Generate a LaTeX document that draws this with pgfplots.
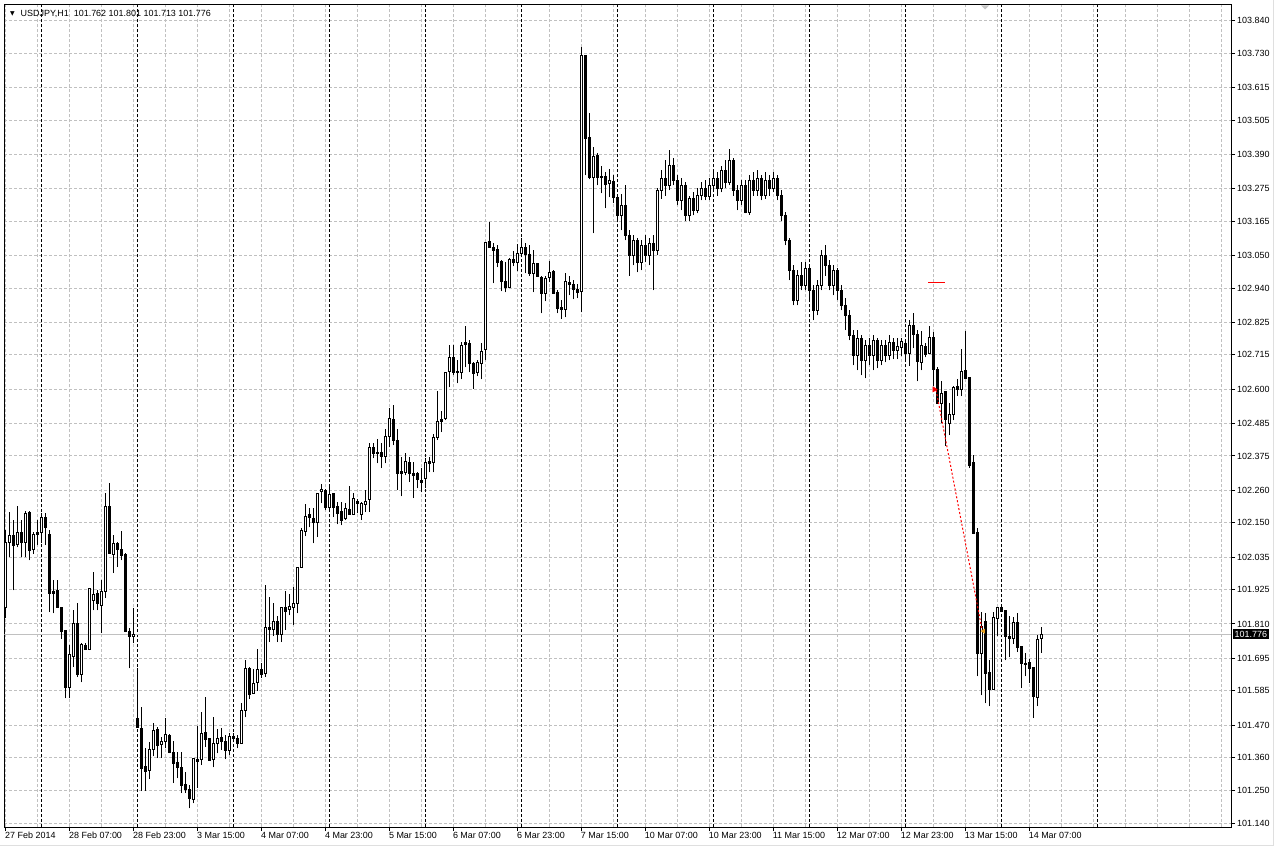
\documentclass[border=0pt]{standalone}
\usepackage{fontspec}
\setmainfont{Liberation Sans}
\newfontfamily\dejavu{DejaVu Sans}
\usepackage{pgfplots}
\usepackage{pgfplotstable}
\pgfplotsset{compat=1.18}
\definecolor{gridgray}{RGB}{192,192,192}
\definecolor{tradeorange}{RGB}{230,160,30}

\pgfplotstableread{
x o h l c
-16 101.866 102.125 101.829 102.085
-15 102.085 102.186 102.034 102.108
-14 102.108 102.159 101.923 102.075
-13 102.078 102.206 102.068 102.118
-12 102.118 102.159 102.034 102.085
-11 102.085 102.189 102.034 102.182
-10 102.186 102.189 102.024 102.058
-9 102.061 102.118 102.045 102.112
-8 102.118 102.159 102.075 102.112
-7 102.118 102.182 102.081 102.169
-6 102.169 102.182 102.075 102.135
-5 102.112 102.125 101.850 101.913
-4 101.920 101.957 101.846 101.913
-3 101.923 101.957 101.866 101.866
-2 101.866 101.866 101.759 101.786
-1 101.789 101.789 101.560 101.597
0 101.597 101.739 101.560 101.708
1 101.702 101.856 101.665 101.813
2 101.813 101.880 101.631 101.641
3 101.641 101.745 101.614 101.742
4 101.739 101.745 101.722 101.725
5 101.725 101.930 101.722 101.930
6 101.890 101.984 101.856 101.910
7 101.913 101.923 101.856 101.880
8 101.873 101.957 101.779 101.920
9 101.920 102.250 101.897 102.206
10 102.206 102.283 102.048 102.048
11 102.045 102.108 101.981 102.081
12 102.081 102.085 102.001 102.061
13 102.061 102.122 102.024 102.041
14 102.045 102.048 101.782 101.786
15 101.786 101.796 101.661 101.769
16 101.769 101.863 101.745 101.776
17 101.493 101.661 101.463 101.463
18 101.459 101.530 101.248 101.325
19 101.332 101.392 101.248 101.315
20 101.318 101.412 101.288 101.389
21 101.389 101.476 101.365 101.453
22 101.456 101.463 101.359 101.402
23 101.406 101.429 101.359 101.416
24 101.416 101.493 101.392 101.439
25 101.436 101.439 101.375 101.379
26 101.379 101.416 101.275 101.342
27 101.345 101.379 101.291 101.328
28 101.328 101.379 101.241 101.268
29 101.271 101.312 101.241 101.254
30 101.254 101.268 101.190 101.224
31 101.221 101.359 101.207 101.359
32 101.355 101.466 101.258 101.348
33 101.355 101.513 101.335 101.443
34 101.446 101.564 101.396 101.422
35 101.426 101.426 101.352 101.352
36 101.355 101.496 101.328 101.409
37 101.409 101.456 101.375 101.426
38 101.429 101.459 101.386 101.416
39 101.416 101.436 101.355 101.386
40 101.386 101.443 101.369 101.433
41 101.433 101.443 101.412 101.426
42 101.426 101.436 101.392 101.409
43 101.409 101.543 101.409 101.520
44 101.520 101.688 101.496 101.661
45 101.661 101.665 101.557 101.574
46 101.577 101.658 101.577 101.611
47 101.614 101.725 101.584 101.658
48 101.658 101.678 101.628 101.641
49 101.644 101.940 101.631 101.799
50 101.799 101.900 101.749 101.793
51 101.793 101.880 101.769 101.819
52 101.819 101.836 101.749 101.776
53 101.776 101.866 101.749 101.866
54 101.866 101.920 101.789 101.853
55 101.860 101.910 101.839 101.870
56 101.866 101.933 101.806 101.880
57 101.880 102.001 101.846 102.001
58 102.001 102.132 101.998 102.125
59 102.122 102.213 102.105 102.172
60 102.179 102.199 102.135 102.169
61 102.166 102.199 102.081 102.152
62 102.152 102.250 102.102 102.250
63 102.256 102.280 102.216 102.263
64 102.260 102.263 102.192 102.202
65 102.202 102.280 102.189 102.246
66 102.250 102.250 102.169 102.202
67 102.206 102.219 102.145 102.182
68 102.189 102.219 102.142 102.159
69 102.166 102.216 102.159 102.199
70 102.196 102.273 102.179 102.179
71 102.179 102.250 102.176 102.233
72 102.223 102.229 102.182 102.216
73 102.179 102.219 102.159 102.216
74 102.213 102.260 102.186 102.223
75 102.229 102.418 102.186 102.404
76 102.404 102.418 102.367 102.384
77 102.387 102.431 102.350 102.384
78 102.387 102.418 102.334 102.374
79 102.374 102.465 102.350 102.441
80 102.441 102.535 102.404 102.502
81 102.498 102.545 102.411 102.428
82 102.428 102.465 102.260 102.317
83 102.324 102.371 102.239 102.317
84 102.320 102.384 102.310 102.357
85 102.354 102.371 102.287 102.317
86 102.317 102.354 102.233 102.310
87 102.317 102.320 102.266 102.297
88 102.293 102.334 102.253 102.286
89 102.300 102.367 102.266 102.354
90 102.357 102.371 102.320 102.350
91 102.354 102.448 102.320 102.438
92 102.438 102.592 102.428 102.492
93 102.498 102.525 102.455 102.492
94 102.502 102.656 102.495 102.656
95 102.660 102.750 102.606 102.707
96 102.707 102.750 102.646 102.656
97 102.660 102.697 102.619 102.656
98 102.656 102.760 102.633 102.747
99 102.757 102.811 102.673 102.750
100 102.754 102.764 102.656 102.687
101 102.687 102.690 102.602 102.653
102 102.656 102.697 102.643 102.690
103 102.687 102.754 102.633 102.727
104 102.734 103.093 102.697 103.093
105 103.097 103.161 103.077 103.077
106 103.077 103.093 102.956 103.067
107 103.070 103.083 103.009 103.026
108 103.030 103.033 102.929 102.962
109 102.962 103.026 102.925 102.942
110 102.942 103.040 102.942 103.036
111 103.036 103.063 103.013 103.026
112 103.026 103.087 102.996 103.056
113 103.056 103.107 103.056 103.077
114 103.077 103.090 102.989 103.053
115 103.053 103.083 102.982 102.989
116 102.989 103.067 102.925 103.023
117 103.023 103.023 102.979 102.979
118 102.976 102.979 102.855 102.922
119 102.922 102.982 102.895 102.972
120 102.976 103.030 102.959 102.993
121 102.996 102.999 102.922 102.922
122 102.925 102.932 102.855 102.871
123 102.875 102.898 102.835 102.868
124 102.868 102.989 102.841 102.962
125 102.959 102.982 102.915 102.952
126 102.952 102.966 102.902 102.935
127 102.935 102.952 102.905 102.925
128 102.929 103.749 102.858 103.722
129 103.722 103.722 103.319 103.443
130 103.446 103.527 103.305 103.312
131 103.312 103.413 103.124 103.383
132 103.386 103.393 103.285 103.312
133 103.315 103.349 103.258 103.312
134 103.315 103.329 103.208 103.288
135 103.292 103.339 103.245 103.302
136 103.298 103.319 103.225 103.245
137 103.245 103.251 103.161 103.184
138 103.184 103.255 103.134 103.218
139 103.218 103.285 103.100 103.117
140 103.117 103.134 102.982 103.050
141 103.050 103.117 103.016 103.100
142 103.100 103.107 102.993 103.026
143 103.026 103.100 102.999 103.083
144 103.083 103.117 103.026 103.050
145 103.050 103.107 103.016 103.090
146 103.090 103.117 102.932 103.067
147 103.067 103.275 103.050 103.268
148 103.268 103.336 103.241 103.309
149 103.309 103.369 103.251 103.285
150 103.285 103.403 103.268 103.352
151 103.352 103.376 103.285 103.302
152 103.302 103.319 103.218 103.235
153 103.235 103.309 103.201 103.285
154 103.285 103.295 103.167 103.184
155 103.184 103.251 103.167 103.241
156 103.241 103.262 103.184 103.201
157 103.201 103.275 103.191 103.251
158 103.251 103.295 103.235 103.275
159 103.275 103.302 103.235 103.248
160 103.248 103.309 103.235 103.285
161 103.285 103.336 103.268 103.309
162 103.309 103.329 103.251 103.275
163 103.275 103.352 103.262 103.336
164 103.336 103.369 103.275 103.295
165 103.295 103.409 103.285 103.369
166 103.369 103.376 103.251 103.268
167 103.268 103.285 103.201 103.235
168 103.235 103.302 103.218 103.285
169 103.285 103.302 103.191 103.194
170 103.194 103.319 103.187 103.302
171 103.302 103.329 103.251 103.268
172 103.268 103.336 103.251 103.309
173 103.309 103.319 103.235 103.251
174 103.251 103.329 103.241 103.302
175 103.302 103.319 103.251 103.275
176 103.275 103.329 103.262 103.309
177 103.309 103.319 103.235 103.251
178 103.251 103.268 103.167 103.184
179 103.184 103.194 103.083 103.100
180 103.100 103.107 102.966 102.999
181 102.999 103.016 102.882 102.898
182 102.898 102.999 102.882 102.982
183 102.982 103.026 102.932 102.949
184 102.949 103.026 102.932 103.006
185 103.006 103.016 102.898 102.932
186 102.932 102.949 102.831 102.865
187 102.865 102.966 102.848 102.949
188 102.949 103.067 102.932 103.050
189 103.050 103.083 102.982 103.016
190 103.016 103.033 102.932 102.949
191 102.949 103.016 102.915 102.999
192 102.999 103.006 102.898 102.932
193 102.932 102.949 102.865 102.882
194 102.882 102.905 102.798 102.848
195 102.848 102.865 102.764 102.781
196 102.781 102.798 102.680 102.714
197 102.714 102.798 102.663 102.771
198 102.771 102.781 102.646 102.697
199 102.697 102.764 102.636 102.747
200 102.747 102.771 102.680 102.714
201 102.714 102.781 102.663 102.764
202 102.764 102.771 102.670 102.697
203 102.697 102.764 102.680 102.747
204 102.747 102.764 102.690 102.714
205 102.714 102.781 102.697 102.757
206 102.757 102.771 102.700 102.730
207 102.730 102.771 102.700 102.744
208 102.740 102.771 102.713 102.760
209 102.754 102.764 102.700 102.720
210 102.720 102.831 102.677 102.815
211 102.815 102.855 102.737 102.784
212 102.784 102.798 102.626 102.693
213 102.690 102.794 102.663 102.747
214 102.744 102.754 102.707 102.717
215 102.720 102.811 102.717 102.774
216 102.774 102.791 102.612 102.666
217 102.666 102.673 102.552 102.552
218 102.552 102.626 102.485 102.586
219 102.592 102.592 102.408 102.498
220 102.485 102.552 102.445 102.515
221 102.515 102.609 102.495 102.606
222 102.609 102.633 102.576 102.599
223 102.599 102.734 102.576 102.660
224 102.663 102.794 102.636 102.636
225 102.639 102.639 102.334 102.344
226 102.354 102.377 102.112 102.115
227 102.118 102.132 101.634 101.712
228 101.712 101.850 101.570 101.802
229 101.819 101.846 101.543 101.644
230 101.648 101.688 101.533 101.590
231 101.590 101.850 101.590 101.833
232 101.829 101.866 101.769 101.866
233 101.866 101.870 101.853 101.853
234 101.856 101.856 101.688 101.769
235 101.769 101.836 101.698 101.762
236 101.762 101.833 101.742 101.816
237 101.816 101.846 101.715 101.732
238 101.735 101.735 101.594 101.678
239 101.678 101.712 101.634 101.675
240 101.681 101.691 101.611 101.661
241 101.665 101.665 101.493 101.567
242 101.564 101.772 101.533 101.759
243 101.762 101.801 101.713 101.776
}\candles

\begin{document}
\begin{tikzpicture}
\begin{axis}[
  scale only axis, width=1227bp, height=823bp,
  xmin=-16.25, xmax=290.5, ymin=101.1266, ymax=103.8936,
  axis line style={black, line width=1bp},
  tick align=outside, major tick length=4bp, minor tick length=0pt,
  tick style={black, line width=1bp},
  xtick={-16,0,...,240},
  xticklabels={27 Feb 2014,28 Feb 07:00,28 Feb 23:00,3 Mar 15:00,4 Mar 07:00,4 Mar 23:00,5 Mar 15:00,6 Mar 07:00,6 Mar 23:00,7 Mar 15:00,10 Mar 07:00,10 Mar 23:00,11 Mar 15:00,12 Mar 07:00,12 Mar 23:00,13 Mar 15:00,14 Mar 07:00},
  minor xtick={-16,-8,...,288},
  ytick={101.14,101.25,101.36,101.47,101.585,101.695,101.81,101.925,102.035,102.15,102.26,102.375,102.485,102.6,102.715,102.825,102.94,103.05,103.165,103.275,103.39,103.505,103.615,103.73,103.84},
  yticklabels={101.140,101.250,101.360,101.470,101.585,101.695,101.810,101.925,102.035,102.150,102.260,102.375,102.485,102.600,102.715,102.825,102.940,103.050,103.165,103.275,103.390,103.505,103.615,103.730,103.840},
  xtick pos=bottom, ytick pos=right, yticklabel pos=right,
  grid=both,
  major grid style={gridgray, dash pattern=on 3bp off 2bp, line width=1bp},
  minor grid style={gridgray, dash pattern=on 3bp off 2bp, line width=1bp},
  extra x ticks={-7,17,41,65,89,113,137,161,185,209,233,257},
  extra x tick labels={},
  extra x tick style={grid=major, major grid style={black, dash pattern=on 3bp off 2bp, line width=1bp}, major tick length=0pt},
  ticklabel style={font=\fontsize{9}{10}\selectfont},
  xticklabel style={anchor=north west, inner sep=0pt, xshift=-0.5bp, yshift=-1bp},
  yticklabel style={anchor=west, inner sep=0pt, xshift=2bp},
]
\addplot[gridgray, line width=1bp, forget plot] coordinates {(-16.25,101.776) (290.5,101.776)};
% wicks
\addplot[draw=none, mark=none, forget plot, error bars/.cd, y dir=plus, y explicit, error mark=none,
  error bar style={draw=black, solid, line width=1bp}]
  table[x=x, y=l, y error plus expr={\thisrow{h}-\thisrow{l}}] {\candles};
% bodies (outline / filled)
\addplot[draw=none, mark=none, forget plot, error bars/.cd, y dir=plus, y explicit, error mark=none,
  error bar style={draw=black, solid, line width=3bp}]
  table[x=x, y expr={min(\thisrow{o},\thisrow{c})-0.0017}, y error plus expr={abs(\thisrow{c}-\thisrow{o})+0.0034}] {\candles};
% hollow inside of rising candles
\addplot[draw=none, mark=none, forget plot, error bars/.cd, y dir=plus, y explicit, error mark=none,
  error bar style={draw=white, solid, line width=1bp}]
  table[x=x, y expr={\thisrow{o}+0.0017}, y error plus expr={max(\thisrow{c}-\thisrow{o}-0.0034,0)}] {\candles};
% trade objects
\addplot[red, line width=1bp, dash pattern=on 2bp off 2bp, forget plot] coordinates {(216.75,102.596) (228.25,101.789)};
\addplot[red, line width=1.2bp, forget plot] coordinates {(214.75,102.958) (219,102.958)};
\addplot[only marks, mark=triangle*, mark size=3bp, mark options={rotate=-90, fill=red, draw=red}, forget plot] coordinates {(216.3,102.599)};
\addplot[only marks, mark=triangle*, mark size=2.5bp, mark options={rotate=90, fill=tradeorange, draw=tradeorange}, forget plot] coordinates {(228.6,101.786)};
\coordinate (P) at (axis cs:290.5,101.776);
\coordinate (TL) at (rel axis cs:0,1);
\coordinate (TR) at (rel axis cs:1,1);
\coordinate (BL) at (rel axis cs:0,0);
\coordinate (BR) at (rel axis cs:1,0);
\end{axis}
\node[fill=black, text=white, anchor=west, inner xsep=1.8bp, inner ysep=1.5bp, text height=6.5bp, text depth=0pt, font=\fontsize{9}{10}\selectfont] at ([xshift=1.7bp]P) {101.776};
\node[anchor=base west, inner sep=0pt, font=\fontsize{9}{10}\selectfont] at ([xshift=16bp, yshift=-11.7bp]TL) {USDJPY,H1\ \ 101.762 101.801 101.713 101.776};
\node[inner sep=0pt, font=\dejavu\fontsize{6}{6}\selectfont] at ([xshift=8bp, yshift=-9bp]TL) {▼};
\fill[gray!45] ([xshift=977bp, yshift=-1bp]TL) -- ++(8bp,0) -- ++(-4bp,-4bp) -- cycle;
\draw[gray!25, line width=1bp] ([xshift=42bp, yshift=4bp]TR) -- ([xshift=42bp, yshift=-18bp]BR) -- ([xshift=-4bp, yshift=-18bp]BL);
\path[use as bounding box] ([xshift=-4bp, yshift=-20bp]BL) rectangle ([xshift=45bp, yshift=4bp]TR);
\end{tikzpicture}
\end{document}
